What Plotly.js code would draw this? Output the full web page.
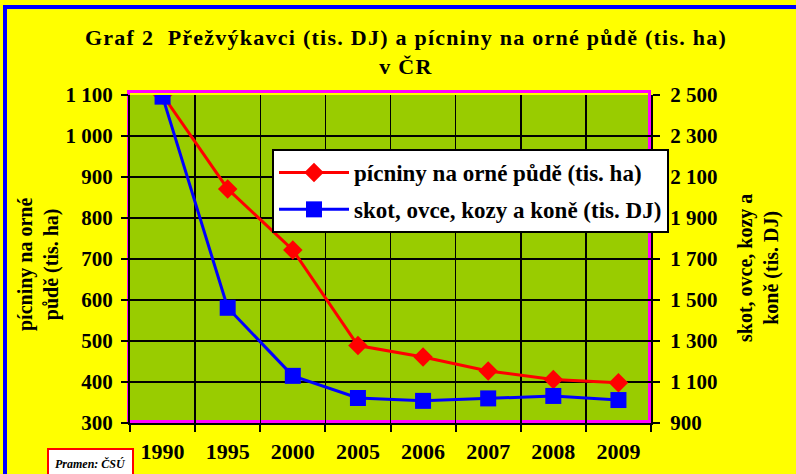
<!DOCTYPE html>
<html>
<head>
<meta charset="utf-8">
<script src="https://cdn.plot.ly/plotly-3.0.1.min.js"></script>
<style>
html,body{margin:0;padding:0;background:#FFFF00;}
#chart{width:796px;height:474px;}
#chart .gtitle{letter-spacing:1.25px;}
</style>
</head>
<body>
<div id="chart"></div>
<script>
var years = ["1990","1995","2000","2005","2006","2007","2008","2009"];
var picniny = [1100, 871, 722, 489, 461, 427, 406, 398];
var prezvykavci = [2492, 1462, 1130, 1022, 1008, 1020, 1032, 1012];
var leftTicks = [300,400,500,600,700,800,900,1000,1100];
var leftTickText = ["300","400","500","600","700","800","900","1 000","1 100"];
var rightTicks = [900,1100,1300,1500,1700,1900,2100,2300,2500];
var rightTickText = ["900","1 100","1 300","1 500","1 700","1 900","2 100","2 300","2 500"];
var seriesNames = ["pícniny na orné půdě (tis. ha)", "skot, ovce, kozy a koně (tis. DJ)"];

var serif = "Liberation Serif";

var traces = [
  {x: years, y: picniny, name: seriesNames[0], type: 'scatter', mode: 'lines+markers',
   line: {color: '#FF0000', width: 3}, marker: {symbol: 'diamond', size: 15, color: '#FF0000'},
   yaxis: 'y', legendgroup: 'a'},
  {x: years, y: prezvykavci, name: seriesNames[1], type: 'scatter', mode: 'lines+markers',
   line: {color: '#0000FF', width: 3}, marker: {symbol: 'square', size: 16, color: '#0000FF'},
   yaxis: 'y2', legendgroup: 'b'}
];

function px(x){ return (x-130)/521; }
function py(y){ return (423-y)/328; }

var layout = {
  width: 796, height: 474,
  margin: {l: 130, r: 145, t: 95, b: 51},
  paper_bgcolor: '#FFFF00',
  plot_bgcolor: '#99CC00',
  font: {family: serif, color: '#000', weight: 700},
  title: {text: 'Graf 2  Přežvýkavci (tis. DJ) a pícniny na orné půdě (tis. ha)<br>v ČR',
          font: {family: serif, size: 22, weight: 700, color: '#000'},
          xref: 'container', x: 406/796, xanchor: 'center',
          yref: 'container', y: 1 - 45/474, yanchor: 'top'},
  showlegend: true,
  legend: {x: px(272), y: py(149), xanchor: 'left', yanchor: 'top',
           bgcolor: '#FFFFFF', bordercolor: '#000', borderwidth: 2,
           font: {family: serif, size: 23, weight: 700, color: '#000'},
           traceorder: 'grouped', tracegroupgap: 4, itemwidth: 70},
  xaxis: {type: 'category', categoryorder: 'array', categoryarray: years,
          range: [-0.5, 7.5], tickson: 'boundaries', ticks: 'outside', ticklen: 7,
          tickcolor: '#000', tickwidth: 2, showgrid: true, gridcolor: '#000', gridwidth: 1.5,
          showline: true, linecolor: '#000', linewidth: 2, ticklabelstandoff: 8,
          tickfont: {family: serif, size: 22, weight: 700, color: '#000'}, fixedrange: true},
  yaxis: {range: [300, 1100], tickvals: leftTicks, ticktext: leftTickText,
          ticks: 'outside', ticklen: 7, tickcolor: '#000', tickwidth: 2,
          showgrid: true, gridcolor: '#000', gridwidth: 1.5, zeroline: false,
          showline: true, linecolor: '#000', linewidth: 2, ticklabelstandoff: 4,
          tickfont: {family: serif, size: 21, weight: 700, color: '#000'}},
  yaxis2: {range: [900, 2500], tickvals: rightTicks, ticktext: rightTickText,
           overlaying: 'y', side: 'right', showgrid: false, zeroline: false,
           ticks: 'outside', ticklen: 7, tickcolor: '#000', tickwidth: 2,
           showline: true, linecolor: '#000', linewidth: 2, ticklabelstandoff: 6,
           tickfont: {family: serif, size: 21, weight: 700, color: '#000'}},
  shapes: [
    {type: 'rect', xref: 'paper', yref: 'paper', x0: px(128.5), x1: px(649.5), y0: py(421.5), y1: py(91.5),
     line: {color: '#FF00FF', width: 3}, fillcolor: 'rgba(0,0,0,0)', layer: 'below'},
    {type: 'rect', xref: 'paper', yref: 'paper', x0: px(3), x1: px(800), y0: py(9), y1: py(5),
     line: {width: 0}, fillcolor: '#0000FF'},
    {type: 'rect', xref: 'paper', yref: 'paper', x0: px(3), x1: px(7), y0: py(480), y1: py(5),
     line: {width: 0}, fillcolor: '#0000FF'}
  ],
  annotations: [
    {text: 'pícniny na orné<br>půdě (tis. ha)', xref: 'paper', yref: 'paper',
     x: px(38), y: py(265), xanchor: 'center', yanchor: 'middle', textangle: -90, showarrow: false,
     font: {family: serif, size: 20, weight: 700, color: '#000'}},
    {text: 'skot, ovce, kozy a<br>koně (tis. DJ)', xref: 'paper', yref: 'paper',
     x: px(758), y: py(268), xanchor: 'center', yanchor: 'middle', textangle: -90, showarrow: false,
     font: {family: serif, size: 20, weight: 700, color: '#000'}},
    {text: '<i>Pramen: ČSÚ</i>', xref: 'paper', yref: 'paper',
     x: px(90.5), y: py(463), xanchor: 'center', yanchor: 'middle', showarrow: false,
     bgcolor: '#FFFFFF', bordercolor: '#FF0000', borderwidth: 2, borderpad: 6,
     font: {family: serif, size: 12, weight: 700, color: '#000'}}
  ]
};

Plotly.newPlot('chart', traces, layout, {displayModeBar: false, staticPlot: true});
</script>
</body>
</html>
